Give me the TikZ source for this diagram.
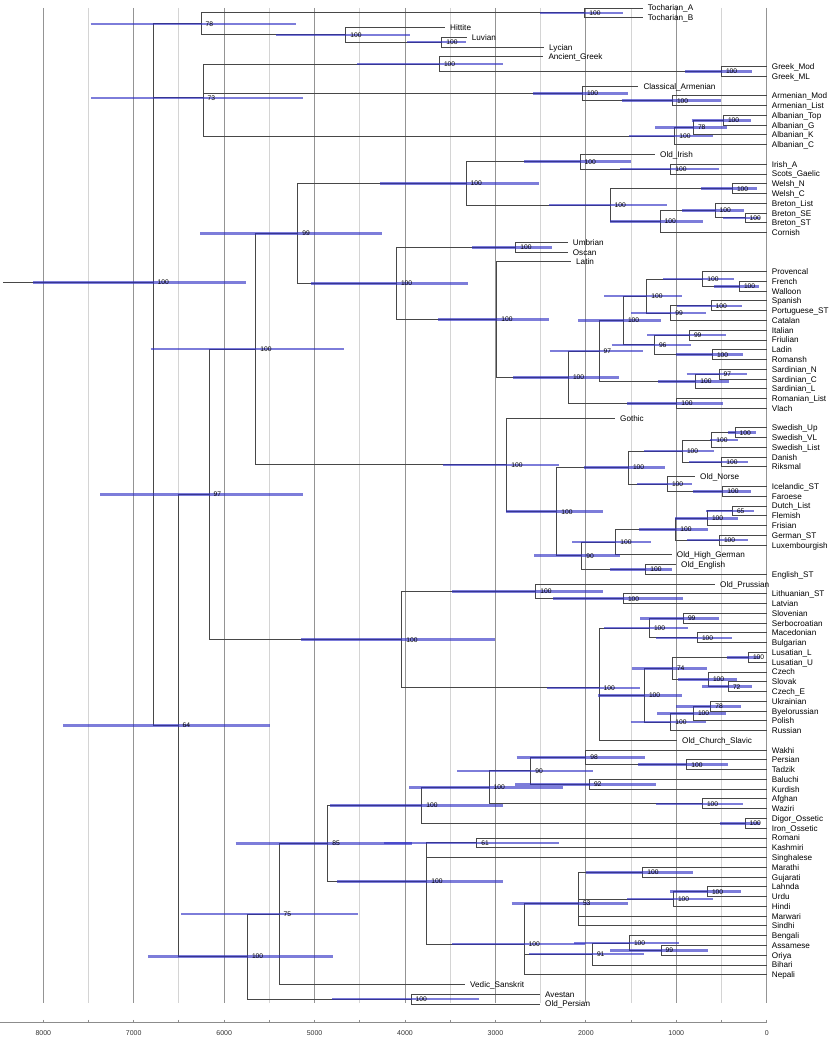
\documentclass[tikz,border=0pt]{standalone}
\usepackage{fontspec}
\setmainfont{Liberation Sans}
\pgfdeclarelayer{gridl}
\pgfdeclarelayer{hpdl}
\pgfdeclarelayer{topl}
\pgfsetlayers{gridl,main,hpdl,topl}
\pgfmathdeclarefunction{ry}{1}{\pgfmathparse{8+9.765*#1}}
\definecolor{barblue}{RGB}{45,45,195}
\tikzset{
  br/.style={draw=black!72, line width=0.95pt},
  hpd/.style={draw=barblue, draw opacity=0.62, line width=2.6pt},
  sup/.style={anchor=base west, inner sep=0pt, font=\fontsize{6.7}{7}\selectfont, xshift=4.5pt, yshift=-2.35pt},
  leaflab/.style={anchor=base west, inner sep=0pt, font=\fontsize{8.15}{9}\selectfont, xshift=5pt, yshift=-2.95pt},
  gridmaj/.style={draw=black!42, line width=0.9pt},
  gridmin/.style={draw=black!17, line width=0.9pt},
  axisline/.style={draw=black!45, line width=0.9pt},
  axlab/.style={inner sep=0pt, font=\fontsize{7}{8}\selectfont, text=black!80},
}
\newcommand\mkinode[6]{%
  \coordinate (#1) at (#2,{ry(#3)});
  \begin{pgfonlayer}{hpdl}\draw[hpd] (#4,{ry(#3)}) -- (#5,{ry(#3)});\end{pgfonlayer}
  \begin{pgfonlayer}{topl}\node[sup] (#1s) at (#1) {#6};\end{pgfonlayer}%
}
\newcommand\mkleaf[3]{%
  \coordinate (l#1) at (#2,{ry(#1)});
  \begin{pgfonlayer}{topl}\node[leaflab] (t#1) at (l#1) {#3};\end{pgfonlayer}%
}
\newcommand\mkkids[2]{\foreach \c in {#2}{\draw[br] (#1) |- (\c);}}
\begin{document}
\begin{tikzpicture}[x=1pt,y=-1pt]
\useasboundingbox (0,0) rectangle (830,1038);
% grid and axis
\begin{pgfonlayer}{gridl}
\foreach \t in {500,1500,...,7500}{
  \draw[gridmin] ({766.7-0.09043*\t},8) -- ({766.7-0.09043*\t},1003);
  \draw[axisline] ({766.7-0.09043*\t},1019.8) -- ({766.7-0.09043*\t},1022.3);
}
\foreach \t in {0,1000,...,8000}{
  \draw[gridmaj] ({766.7-0.09043*\t},8) -- ({766.7-0.09043*\t},1003);
  \draw[axisline] ({766.7-0.09043*\t},1019.8) -- ({766.7-0.09043*\t},1022.3);
  \node[axlab] (ax\t) at ({766.7-0.09043*\t},1033) {\t};
}
\coordinate (axL) at (0,1022.3);
\coordinate (axR) at (766.7,1022.3);
\draw[axisline] (axL) -- (axR);
\end{pgfonlayer}
% leaves
\def\M{766.7}
\mkleaf{0}{642.7}{Tocharian\_A}
\mkleaf{1}{642.7}{Tocharian\_B}
\mkleaf{2}{445}{Hittite}
\mkleaf{3}{466.7}{Luvian}
\mkleaf{4}{544}{Lycian}
\mkleaf{5}{543.3}{Ancient\_Greek}
\mkleaf{6}{\M}{Greek\_Mod}
\mkleaf{7}{\M}{Greek\_ML}
\mkleaf{8}{638.3}{Classical\_Armenian}
\mkleaf{9}{\M}{Armenian\_Mod}
\mkleaf{10}{\M}{Armenian\_List}
\mkleaf{11}{\M}{Albanian\_Top}
\mkleaf{12}{\M}{Albanian\_G}
\mkleaf{13}{\M}{Albanian\_K}
\mkleaf{14}{\M}{Albanian\_C}
\mkleaf{15}{655}{Old\_Irish}
\mkleaf{16}{\M}{Irish\_A}
\mkleaf{17}{\M}{Scots\_Gaelic}
\mkleaf{18}{\M}{Welsh\_N}
\mkleaf{19}{\M}{Welsh\_C}
\mkleaf{20}{\M}{Breton\_List}
\mkleaf{21}{\M}{Breton\_SE}
\mkleaf{22}{\M}{Breton\_ST}
\mkleaf{23}{\M}{Cornish}
\mkleaf{24}{567.7}{Umbrian}
\mkleaf{25}{567.7}{Oscan}
\mkleaf{26}{571}{Latin}
\mkleaf{27}{\M}{Provencal}
\mkleaf{28}{\M}{French}
\mkleaf{29}{\M}{Walloon}
\mkleaf{30}{\M}{Spanish}
\mkleaf{31}{\M}{Portuguese\_ST}
\mkleaf{32}{\M}{Catalan}
\mkleaf{33}{\M}{Italian}
\mkleaf{34}{\M}{Friulian}
\mkleaf{35}{\M}{Ladin}
\mkleaf{36}{\M}{Romansh}
\mkleaf{37}{\M}{Sardinian\_N}
\mkleaf{38}{\M}{Sardinian\_C}
\mkleaf{39}{\M}{Sardinian\_L}
\mkleaf{40}{\M}{Romanian\_List}
\mkleaf{41}{\M}{Vlach}
\mkleaf{42}{615}{Gothic}
\mkleaf{43}{\M}{Swedish\_Up}
\mkleaf{44}{\M}{Swedish\_VL}
\mkleaf{45}{\M}{Swedish\_List}
\mkleaf{46}{\M}{Danish}
\mkleaf{47}{\M}{Riksmal}
\mkleaf{48}{695}{Old\_Norse}
\mkleaf{49}{\M}{Icelandic\_ST}
\mkleaf{50}{\M}{Faroese}
\mkleaf{51}{\M}{Dutch\_List}
\mkleaf{52}{\M}{Flemish}
\mkleaf{53}{\M}{Frisian}
\mkleaf{54}{\M}{German\_ST}
\mkleaf{55}{\M}{Luxembourgish}
\mkleaf{56}{671.7}{Old\_High\_German}
\mkleaf{57}{676}{Old\_English}
\mkleaf{58}{\M}{English\_ST}
\mkleaf{59}{715}{Old\_Prussian}
\mkleaf{60}{\M}{Lithuanian\_ST}
\mkleaf{61}{\M}{Latvian}
\mkleaf{62}{\M}{Slovenian}
\mkleaf{63}{\M}{Serbocroatian}
\mkleaf{64}{\M}{Macedonian}
\mkleaf{65}{\M}{Bulgarian}
\mkleaf{66}{\M}{Lusatian\_L}
\mkleaf{67}{\M}{Lusatian\_U}
\mkleaf{68}{\M}{Czech}
\mkleaf{69}{\M}{Slovak}
\mkleaf{70}{\M}{Czech\_E}
\mkleaf{71}{\M}{Ukrainian}
\mkleaf{72}{\M}{Byelorussian}
\mkleaf{73}{\M}{Polish}
\mkleaf{74}{\M}{Russian}
\mkleaf{75}{677}{Old\_Church\_Slavic}
\mkleaf{76}{\M}{Wakhi}
\mkleaf{77}{\M}{Persian}
\mkleaf{78}{\M}{Tadzik}
\mkleaf{79}{\M}{Baluchi}
\mkleaf{80}{\M}{Kurdish}
\mkleaf{81}{\M}{Afghan}
\mkleaf{82}{\M}{Waziri}
\mkleaf{83}{\M}{Digor\_Ossetic}
\mkleaf{84}{\M}{Iron\_Ossetic}
\mkleaf{85}{\M}{Romani}
\mkleaf{86}{\M}{Kashmiri}
\mkleaf{87}{\M}{Singhalese}
\mkleaf{88}{\M}{Marathi}
\mkleaf{89}{\M}{Gujarati}
\mkleaf{90}{\M}{Lahnda}
\mkleaf{91}{\M}{Urdu}
\mkleaf{92}{\M}{Hindi}
\mkleaf{93}{\M}{Marwari}
\mkleaf{94}{\M}{Sindhi}
\mkleaf{95}{\M}{Bengali}
\mkleaf{96}{\M}{Assamese}
\mkleaf{97}{\M}{Oriya}
\mkleaf{98}{\M}{Bihari}
\mkleaf{99}{\M}{Nepali}
\mkleaf{100}{465}{Vedic\_Sanskrit}
\mkleaf{101}{540}{Avestan}
\mkleaf{102}{540}{Old\_Persian}
% internal nodes: name, x, row, bar left, bar right, support
\mkinode{TOCH}{584.7}{0.5}{540}{622.7}{100}
\mkinode{LUVLYC}{441.7}{3.5}{407}{465.7}{100}
\mkinode{ANAT}{345.7}{2.75}{275.7}{409.7}{100}
\mkinode{N78}{201}{1.625}{90.7}{295.7}{78}
\mkinode{GRKMOD}{721.3}{6.5}{685}{751.7}{100}
\mkinode{GREEK}{439.3}{5.75}{357}{503.3}{100}
\mkinode{ARMMOD}{672.3}{9.5}{621.7}{721}{100}
\mkinode{ARM}{582.3}{8.75}{533.3}{627.7}{100}
\mkinode{ALBTG}{723.3}{11.5}{691.7}{751}{100}
\mkinode{ALB78}{693.3}{12.25}{655}{726.7}{78}
\mkinode{ALB}{674.7}{13.125}{629.3}{712.7}{100}
\mkinode{N73}{203}{9.2083}{91.3}{303.3}{73}
\mkinode{IRISH}{670.7}{16.5}{620}{719}{100}
\mkinode{GOID}{580}{15.75}{524}{630.7}{100}
\mkinode{WELSH}{732.3}{18.5}{701}{757.3}{100}
\mkinode{BRSEST}{745}{21.5}{722.7}{760}{100}
\mkinode{BRETON}{715}{20.75}{682.3}{744}{100}
\mkinode{BRCOR}{660}{21.875}{610}{702.7}{100}
\mkinode{BRYTH}{610}{20.1875}{549.3}{666.7}{100}
\mkinode{CELTIC}{466}{17.969}{380}{539}{100}
\mkinode{UMBOSC}{515.7}{24.5}{472.3}{551.7}{100}
\mkinode{FRWAL}{739.3}{28.5}{714.3}{759.3}{100}
\mkinode{PROV}{702.7}{27.75}{663.3}{734.3}{100}
\mkinode{SPPT}{711}{30.5}{676.7}{741.7}{100}
\mkinode{IBER}{670.7}{31.25}{631}{705.7}{99}
\mkinode{GALLIB}{646.7}{29.5}{604.3}{681.7}{100}
\mkinode{ITFR}{689.3}{33.5}{647.3}{726}{99}
\mkinode{LADROM}{712.3}{35.5}{675.7}{743.3}{100}
\mkinode{N96}{654.3}{34.5}{611.7}{690.7}{96}
\mkinode{WROM}{623.3}{32}{578.3}{660.7}{100}
\mkinode{SARDNC}{719}{37.5}{686.7}{746.7}{97}
\mkinode{SARD}{695.7}{38.25}{658.3}{729.3}{100}
\mkinode{N97R}{599}{35.125}{550}{643.3}{97}
\mkinode{EROM}{676.7}{40.5}{627.3}{723.3}{100}
\mkinode{ROMANCE}{568.3}{37.8125}{513.3}{619.3}{100}
\mkinode{LATROM}{496.7}{31.906}{438.3}{549.3}{100}
\mkinode{ITALIC}{396.3}{28.203}{310.7}{468}{100}
\mkinode{N99}{297.7}{23.086}{200}{382.3}{99}
\mkinode{SWUV}{735}{43.5}{728.3}{755.7}{100}
\mkinode{SWED}{711.7}{44.25}{710}{738.3}{100}
\mkinode{DANRIK}{721.7}{46.5}{689.3}{748.3}{100}
\mkinode{SCAN}{682.3}{45.375}{644.3}{714}{100}
\mkinode{ICEFAR}{722.7}{49.5}{692.7}{750.7}{100}
\mkinode{ONORSE}{667.3}{48.75}{637.3}{691.7}{100}
\mkinode{NGERM}{628.3}{47.0625}{584.3}{665}{100}
\mkinode{DUFL}{732.3}{51.5}{706}{754.3}{65}
\mkinode{DFF}{707.3}{52.25}{675}{737.7}{100}
\mkinode{GERLUX}{719.3}{54.5}{687.3}{747.7}{100}
\mkinode{CONTWG}{675.7}{53.375}{639}{708.3}{100}
\mkinode{OHG}{615.7}{54.6875}{572.3}{650.7}{100}
\mkinode{ENG}{645.7}{57.5}{610}{672.3}{100}
\mkinode{WGERM}{581.7}{56.094}{534}{620}{90}
\mkinode{NWGERM}{556.7}{51.578}{505.7}{602.7}{100}
\mkinode{GERM}{506.7}{46.789}{443}{559}{100}
\mkinode{N100A}{255.7}{34.9375}{150.7}{344}{100}
\mkinode{LITLAT}{623.3}{60.5}{553.3}{683.3}{100}
\mkinode{BALTIC}{535.7}{59.75}{452.3}{602.7}{100}
\mkinode{SLOSER}{683.3}{62.5}{640}{719.3}{99}
\mkinode{MACBUL}{697.3}{64.5}{656}{732.3}{100}
\mkinode{SSLAV}{649.3}{63.5}{604.3}{687.7}{100}
\mkinode{LUS}{748.3}{66.5}{726.7}{760}{100}
\mkinode{SLCE}{728.3}{69.5}{702.3}{752.3}{72}
\mkinode{CZSL}{708.3}{68.75}{678.3}{736.7}{100}
\mkinode{WSLAV}{672.3}{67.625}{632.3}{707.3}{74}
\mkinode{UKBY}{710.7}{71.5}{676}{740.7}{78}
\mkinode{UBP}{693.3}{72.25}{657.3}{725.7}{100}
\mkinode{ESLAV}{670.7}{73.125}{630.7}{705.7}{100}
\mkinode{WESLAV}{644.3}{70.375}{598}{681.7}{100}
\mkinode{SLAVIC}{599}{69.625}{546.7}{640}{100}
\mkinode{BSLAV}{401.7}{64.6875}{301}{495}{100}
\mkinode{N97}{209}{49.8125}{100}{303}{97}
\mkinode{PERTAD}{686.7}{77.5}{638.3}{728.3}{100}
\mkinode{N98}{585.7}{76.75}{516.7}{645}{98}
\mkinode{N92}{589.3}{79.5}{515}{656}{92}
\mkinode{N90}{530.7}{78.125}{457.3}{593.3}{90}
\mkinode{AFWAZ}{702.3}{81.5}{656}{742.7}{100}
\mkinode{N100I}{489}{79.8125}{409.3}{563.3}{100}
\mkinode{OSS}{745}{83.5}{720}{760}{100}
\mkinode{IRAN}{421.7}{81.656}{330}{503.3}{100}
\mkinode{N61}{476.7}{85.5}{384.3}{559.3}{61}
\mkinode{MARGUJ}{642.7}{88.5}{585.7}{693.3}{100}
\mkinode{LAURD}{707.3}{90.5}{670}{740.7}{100}
\mkinode{LUH}{673.3}{91.25}{627.3}{712.7}{100}
\mkinode{N53}{578.3}{91.6875}{511.7}{627.7}{53}
\mkinode{ASSOR}{661}{96.5}{610}{708.3}{99}
\mkinode{BAO}{629.3}{95.75}{574}{679.3}{100}
\mkinode{N91}{592.3}{96.875}{529.3}{644.3}{91}
\mkinode{N100E}{524}{95.854}{451.7}{585}{100}
\mkinode{IA}{426.7}{89.451}{337.3}{502.7}{100}
\mkinode{N85}{327.7}{85.554}{235.7}{411.7}{85}
\mkinode{N75}{279}{92.777}{181}{357.7}{75}
\mkinode{AVOP}{411}{101.5}{332.3}{479}{100}
\mkinode{INDIR}{247.3}{97.139}{148.3}{333.3}{100}
\mkinode{N64}{178}{73.476}{63.3}{270}{64}
\mkinode{ROOT}{153}{28.103}{33}{246}{100}
% branches
\coordinate (stem) at (3,{ry(28.103)});
\draw[br] (stem) -- (ROOT);
\mkkids{ROOT}{N78,N73,N64}
\mkkids{N78}{TOCH,ANAT}
\mkkids{TOCH}{l0,l1}
\mkkids{ANAT}{l2,LUVLYC}
\mkkids{LUVLYC}{l3,l4}
\mkkids{N73}{GREEK,ARM,ALB}
\mkkids{GREEK}{l5,GRKMOD}
\mkkids{GRKMOD}{l6,l7}
\mkkids{ARM}{l8,ARMMOD}
\mkkids{ARMMOD}{l9,l10}
\mkkids{ALB}{ALB78,l14}
\mkkids{ALB78}{ALBTG,l13}
\mkkids{ALBTG}{l11,l12}
\mkkids{N64}{N97,INDIR}
\mkkids{N97}{N100A,BSLAV}
\mkkids{N100A}{N99,GERM}
\mkkids{N99}{CELTIC,ITALIC}
\mkkids{CELTIC}{GOID,BRYTH}
\mkkids{GOID}{l15,IRISH}
\mkkids{IRISH}{l16,l17}
\mkkids{BRYTH}{WELSH,BRCOR}
\mkkids{WELSH}{l18,l19}
\mkkids{BRCOR}{BRETON,l23}
\mkkids{BRETON}{l20,BRSEST}
\mkkids{BRSEST}{l21,l22}
\mkkids{ITALIC}{UMBOSC,LATROM}
\mkkids{UMBOSC}{l24,l25}
\mkkids{LATROM}{l26,ROMANCE}
\mkkids{ROMANCE}{N97R,EROM}
\mkkids{N97R}{WROM,SARD}
\mkkids{WROM}{GALLIB,N96}
\mkkids{GALLIB}{PROV,IBER}
\mkkids{PROV}{l27,FRWAL}
\mkkids{FRWAL}{l28,l29}
\mkkids{IBER}{SPPT,l32}
\mkkids{SPPT}{l30,l31}
\mkkids{N96}{ITFR,LADROM}
\mkkids{ITFR}{l33,l34}
\mkkids{LADROM}{l35,l36}
\mkkids{SARD}{SARDNC,l39}
\mkkids{SARDNC}{l37,l38}
\mkkids{EROM}{l40,l41}
\mkkids{GERM}{l42,NWGERM}
\mkkids{NWGERM}{NGERM,WGERM}
\mkkids{NGERM}{SCAN,ONORSE}
\mkkids{SCAN}{SWED,DANRIK}
\mkkids{SWED}{SWUV,l45}
\mkkids{SWUV}{l43,l44}
\mkkids{DANRIK}{l46,l47}
\mkkids{ONORSE}{l48,ICEFAR}
\mkkids{ICEFAR}{l49,l50}
\mkkids{WGERM}{OHG,ENG}
\mkkids{OHG}{CONTWG,l56}
\mkkids{CONTWG}{DFF,GERLUX}
\mkkids{DFF}{DUFL,l53}
\mkkids{DUFL}{l51,l52}
\mkkids{GERLUX}{l54,l55}
\mkkids{ENG}{l57,l58}
\mkkids{BSLAV}{BALTIC,SLAVIC}
\mkkids{BALTIC}{l59,LITLAT}
\mkkids{LITLAT}{l60,l61}
\mkkids{SLAVIC}{SSLAV,WESLAV,l75}
\mkkids{SSLAV}{SLOSER,MACBUL}
\mkkids{SLOSER}{l62,l63}
\mkkids{MACBUL}{l64,l65}
\mkkids{WESLAV}{WSLAV,ESLAV}
\mkkids{WSLAV}{LUS,CZSL}
\mkkids{LUS}{l66,l67}
\mkkids{CZSL}{l68,SLCE}
\mkkids{SLCE}{l69,l70}
\mkkids{ESLAV}{UBP,l74}
\mkkids{UBP}{UKBY,l73}
\mkkids{UKBY}{l71,l72}
\mkkids{INDIR}{N75,AVOP}
\mkkids{AVOP}{l101,l102}
\mkkids{N75}{N85,l100}
\mkkids{N85}{IRAN,IA}
\mkkids{IRAN}{N100I,OSS}
\mkkids{N100I}{N90,AFWAZ}
\mkkids{N90}{N98,N92}
\mkkids{N98}{l76,PERTAD}
\mkkids{PERTAD}{l77,l78}
\mkkids{N92}{l79,l80}
\mkkids{AFWAZ}{l81,l82}
\mkkids{OSS}{l83,l84}
\mkkids{IA}{N61,l87,N100E}
\mkkids{N61}{l85,l86}
\mkkids{N100E}{N53,N91,l99}
\mkkids{N53}{MARGUJ,LUH,l93,l94}
\mkkids{MARGUJ}{l88,l89}
\mkkids{LUH}{LAURD,l92}
\mkkids{LAURD}{l90,l91}
\mkkids{N91}{BAO,l98}
\mkkids{BAO}{l95,ASSOR}
\mkkids{ASSOR}{l96,l97}
\end{tikzpicture}
\end{document}
